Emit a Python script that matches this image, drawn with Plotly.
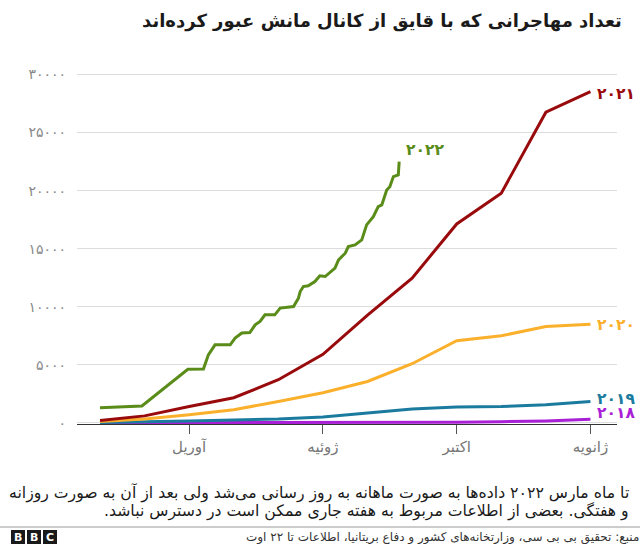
import plotly.graph_objects as go

# ---------------- data ----------------
months = [1, 2, 3, 4, 5, 6, 7, 8, 9, 10, 11, 12]
v2018 = [0, 0, 0, 10, 20, 30, 40, 50, 60, 100, 160, 300]
v2019 = [30, 80, 150, 250, 330, 500, 820, 1190, 1360, 1410, 1560, 1840]
v2020 = [120, 330, 700, 1130, 1840, 2590, 3560, 5090, 7070, 7500, 8300, 8500]
v2021 = [200, 600, 1400, 2160, 3710, 5900, 9270, 12460, 17130, 19780, 26750, 28520]

m2022 = [1.0, 1.94, 2.97, 3.32, 3.43, 3.58, 3.92, 4.03, 4.18, 4.36, 4.48, 4.59, 4.70,
         4.92, 5.04, 5.34, 5.45, 5.49, 5.56, 5.67, 5.82, 5.93, 6.05, 6.16, 6.27, 6.35,
         6.50, 6.57, 6.72, 6.87, 6.98, 7.13, 7.24, 7.32, 7.43, 7.50, 7.58, 7.69, 7.71]
v2022 = [1300, 1450, 4610, 4630, 5860, 6720, 6720, 7300, 7730, 7780, 8440, 8730, 9300,
         9300, 9880, 10020, 10740, 11310, 11740, 11800, 12170, 12660, 12600, 12940, 13320, 14040,
         14610, 15180, 15330, 15760, 17050, 17760, 18620, 18770, 20060, 20340, 21210, 21350, 22500]

x_tickvals = [3, 6, 9, 12]
x_ticktext = ["آوریل", "ژوئیه", "اکتبر", "ژانویه"]
y_tickvals = [0, 5000, 10000, 15000, 20000, 25000, 30000]
y_ticktext = ["۰", "۵۰۰۰", "۱۰۰۰۰", "۱۵۰۰۰", "۲۰۰۰۰", "۲۵۰۰۰", "۳۰۰۰۰"]

series = [
    ("۲۰۱۸", months, v2018, "#a91fd6", 6),
    ("۲۰۱۹", months, v2019, "#1b7b9e", 2),
    ("۲۰۲۰", months, v2020, "#fbb02c", -1),
    ("۲۰۲۱", months, v2021, "#990a0c", -2),
    ("۲۰۲۲", m2022, v2022, "#5a8c19", 12),
]

FONT = "DejaVu Sans"
RLM = "\u200f"
fig = go.Figure()
for name, xs, ys, col, _ in series:
    fig.add_trace(go.Scatter(x=xs, y=ys, mode="lines", name=name,
                             line=dict(color=col, width=3), showlegend=False,
                             hoverinfo="skip"))

# plot area: x 77..617, y 70..424 (pixels)
L, R, T, B = 77, 617, 70, 424
W, H = 640, 544

def pxx(p):
    return (p - L) / (R - L)

def pyy(p):
    return (B - p) / (B - T)

annotations = []
for name, xs, ys, col, ysh in series:
    annotations.append(dict(x=xs[-1], y=ys[-1], xref="x", yref="y", text="<b>" + name + "</b>",
                            showarrow=False, xanchor="left", yanchor="middle", xshift=5,
                            yshift=ysh, font=dict(family=FONT, size=15.5, color=col)))

annotations += [
    dict(x=pxx(624), y=pyy(21), xref="paper", yref="paper", xanchor="right", yanchor="middle",
         text="<b>تعداد مهاجرانی که با قایق از کانال مانش عبور کرده‌اند</b>", showarrow=False,
         font=dict(family=FONT, size=18.0, color="#1a1a1a")),
    dict(x=pxx(631), y=pyy(493), xref="paper", yref="paper", xanchor="right", yanchor="middle",
         text="تا ماه مارس ۲۰۲۲ داده‌ها به صورت ماهانه به روز رسانی می‌شد ولی بعد از آن به صورت روزانه",
         showarrow=False, font=dict(family=FONT, size=15.7, color="#1a1a1a")),
    dict(x=pxx(631), y=pyy(511), xref="paper", yref="paper", xanchor="right", yanchor="middle",
         text="و هفتگی. بعضی از اطلاعات مربوط به هفته جاری ممکن است در دسترس نباشد." + RLM,
         showarrow=False, font=dict(family=FONT, size=15.7, color="#1a1a1a")),
    dict(x=pxx(641), y=pyy(537), xref="paper", yref="paper", xanchor="right", yanchor="middle",
         text="منبع: تحقیق بی بی سی، وزارتخانه‌های کشور و دفاع بریتانیا، اطلاعات تا ۲۲ اوت",
         showarrow=False, font=dict(family=FONT, size=12, color="#333333")),
]

shapes = [dict(type="line", xref="paper", yref="paper", x0=pxx(0), x1=pxx(640),
               y0=pyy(527), y1=pyy(527), line=dict(color="#9a9a9a", width=1))]

# BBC logo blocks
for i, letter in enumerate(["B", "B", "C"]):
    x0 = 11 + i * 16
    shapes.append(dict(type="rect", xref="paper", yref="paper", x0=pxx(x0), x1=pxx(x0 + 14),
                       y0=pyy(544), y1=pyy(530), fillcolor="#1a1a1a", line=dict(width=0)))
    annotations.append(dict(x=pxx(x0 + 7), y=pyy(537), xref="paper", yref="paper",
                            text="<b>" + letter + "</b>", showarrow=False,
                            xanchor="center", yanchor="middle",
                            font=dict(family="DejaVu Sans", size=11, color="white")))

y_lo = -100
y_hi = 30388
fig.update_layout(
    width=W, height=H,
    margin=dict(l=L, r=W - R, t=T, b=H - B),
    paper_bgcolor="white", plot_bgcolor="white",
    font=dict(family=FONT),
    annotations=annotations, shapes=shapes,
    xaxis=dict(range=[0.484, 12.595], tickvals=x_tickvals, ticktext=x_ticktext,
               showgrid=False, zeroline=False, showline=True, linecolor="#333333",
               linewidth=1, ticks="outside", ticklen=9, tickcolor="#555555",
               tickfont=dict(family=FONT, size=15, color="#777777"),
               layer="below traces", fixedrange=True),
    yaxis=dict(range=[y_lo, y_hi], tickvals=y_tickvals, ticktext=y_ticktext,
               showgrid=True, gridcolor="#dddddd", gridwidth=1, zeroline=False,
               showline=False, ticks="", ticklabelstandoff=10,
               tickfont=dict(family=FONT, size=14, color="#888888"),
               layer="below traces", fixedrange=True),
)

fig.write_html("out.html")
